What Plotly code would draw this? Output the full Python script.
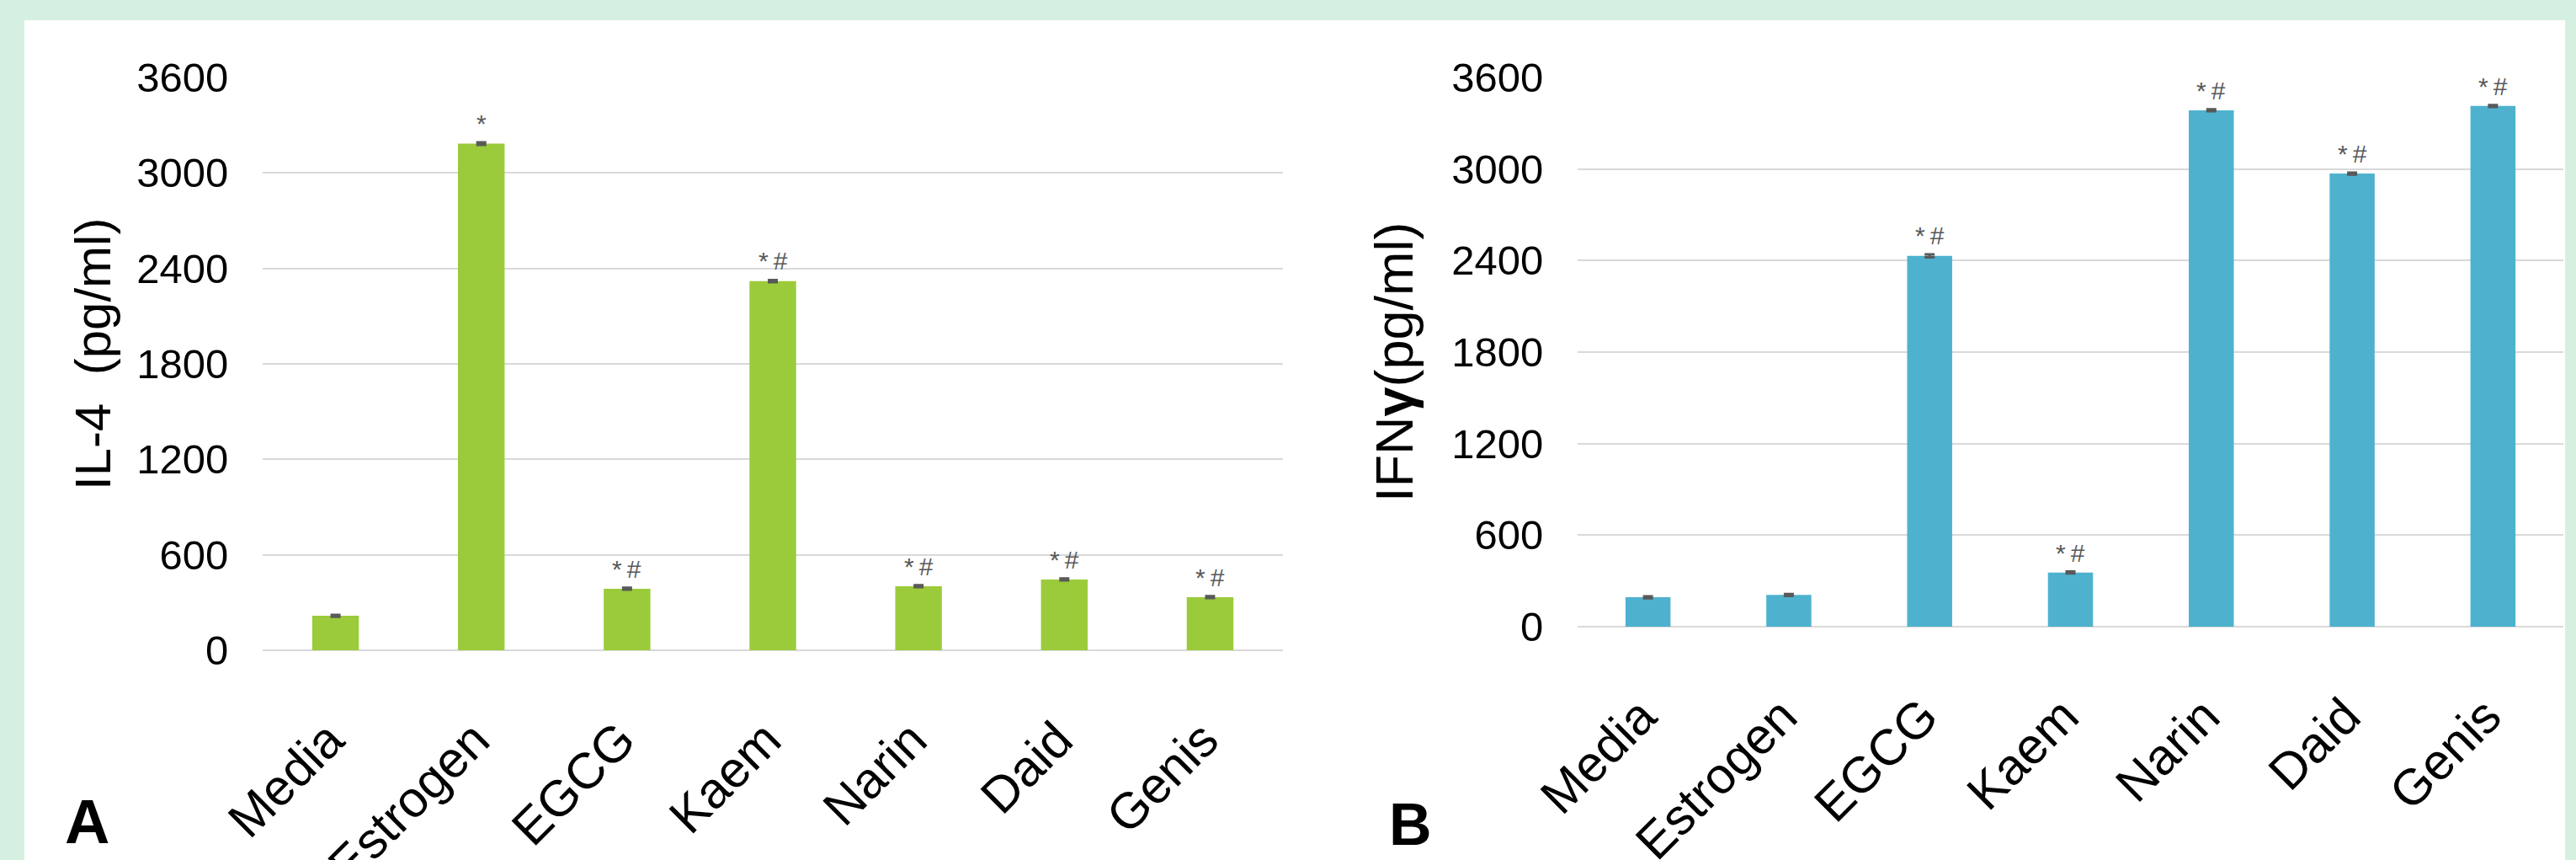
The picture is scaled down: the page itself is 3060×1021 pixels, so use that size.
import plotly.graph_objects as go

categories = ["Media", "Estrogen", "EGCG", "Kaem", "Narin", "Daid", "Genis"]

il4_values = [217, 3185, 387, 2320, 403, 445, 334]
il4_errors = [6, 8, 6, 7, 6, 6, 6]
il4_marks = ["", "*", "*\u2009#", "*\u2009#", "*\u2009#", "*\u2009#", "*\u2009#"]

ifng_values = [193, 208, 2431, 355, 3385, 2970, 3413]
ifng_errors = [6, 6, 10, 6, 6, 6, 6]
ifng_marks = ["", "", "*\u2009#", "*\u2009#", "*\u2009#", "*\u2009#", "*\u2009#"]

y_ticks = [0, 600, 1200, 1800, 2400, 3000, 3600]

W, H = 3060, 1021
FONT = "Liberation Sans, Arial, sans-serif"
GREEN = "#9bcb3a"
BLUE = "#4eb2cf"
ERRC = "#595959"
GRID = "#d9d9d9"
MINT = "#d5f0e1"

fig = go.Figure()

fig.add_trace(go.Bar(
    x=categories, y=il4_values, xaxis="x", yaxis="y",
    marker=dict(color=GREEN, line=dict(width=0)), width=0.32,
    error_y=dict(type="data", array=il4_errors, color=ERRC, thickness=3, width=6),
    showlegend=False,
))
fig.add_trace(go.Bar(
    x=categories, y=ifng_values, xaxis="x2", yaxis="y2",
    marker=dict(color=BLUE, line=dict(width=0)), width=0.32,
    error_y=dict(type="data", array=ifng_errors, color=ERRC, thickness=3, width=6),
    showlegend=False,
))

annotations = []
for c, v, e, m in zip(categories, il4_values, il4_errors, il4_marks):
    if m:
        annotations.append(dict(x=c, y=v + e, xref="x", yref="y", text=m, showarrow=False,
                                yanchor="bottom", yshift=4,
                                font=dict(family=FONT, size=30, color=ERRC)))
for c, v, e, m in zip(categories, ifng_values, ifng_errors, ifng_marks):
    if m:
        annotations.append(dict(x=c, y=v + e, xref="x2", yref="y2", text=m, showarrow=False,
                                yanchor="bottom", yshift=4,
                                font=dict(family=FONT, size=30, color=ERRC)))

# axis titles
annotations.append(dict(x=110 / W, y=1 - 420 / H, xref="paper", yref="paper",
                        text="IL-4  (pg/ml)", textangle=-90, showarrow=False,
                        xanchor="center", yanchor="middle",
                        font=dict(family=FONT, size=60, color="black")))
annotations.append(dict(x=1656 / W, y=1 - 430 / H, xref="paper", yref="paper",
                        text="IFN<b>γ</b>(pg/ml)", textangle=-90, showarrow=False,
                        xanchor="center", yanchor="middle",
                        font=dict(family=FONT, size=63, color="black")))
# panel letters
annotations.append(dict(x=103 / W, y=1 - 975 / H, xref="paper", yref="paper",
                        text="<b>A</b>", showarrow=False, xanchor="center", yanchor="middle",
                        font=dict(family=FONT, size=74, color="black")))
annotations.append(dict(x=1675 / W, y=1 - 979 / H, xref="paper", yref="paper",
                        text="<b>B</b>", showarrow=False, xanchor="center", yanchor="middle",
                        font=dict(family=FONT, size=70, color="black")))

xcommon = dict(type="category", tickangle=-45, showgrid=False, zeroline=False,
               showline=False, ticks="outside", ticklen=46, tickcolor="rgba(0,0,0,0)",
               ticklabelshift=-8,
               tickfont=dict(family=FONT, size=60, color="black"), fixedrange=True,
               automargin=False)
ycommon = dict(range=[0, 3600], tickvals=y_ticks, showgrid=True, gridcolor=GRID, gridwidth=2,
               zeroline=True, zerolinecolor=GRID, zerolinewidth=2, showline=False,
               ticks="outside", ticklen=30, tickcolor="rgba(0,0,0,0)",
               tickfont=dict(family=FONT, size=49, color="black"), fixedrange=True,
               automargin=False)

fig.update_layout(
    width=W, height=H,
    margin=dict(l=0, r=0, t=0, b=0, autoexpand=False),
    paper_bgcolor=MINT, plot_bgcolor="rgba(0,0,0,0)",
    bargap=0.68,
    xaxis=dict(domain=[312 / W, 1524 / W], anchor="y", **xcommon),
    yaxis=dict(domain=[1 - 772 / H, 1 - 92 / H], anchor="x", **ycommon),
    xaxis2=dict(domain=[1874 / W, 3045 / W], anchor="y2", **xcommon),
    yaxis2=dict(domain=[1 - 744 / H, 1 - 92 / H], anchor="x2", **ycommon),
    annotations=annotations,
    shapes=[dict(type="rect", xref="paper", yref="paper",
                 x0=29 / W, x1=3047 / W, y0=0, y1=1 - 24 / H,
                 fillcolor="white", line=dict(width=0), layer="below")],
)

fig.write_html(
    "out.html",
    config={"displayModeBar": False},
    post_script="document.body.style.margin='0';document.body.style.background='" + MINT + "';",
)
